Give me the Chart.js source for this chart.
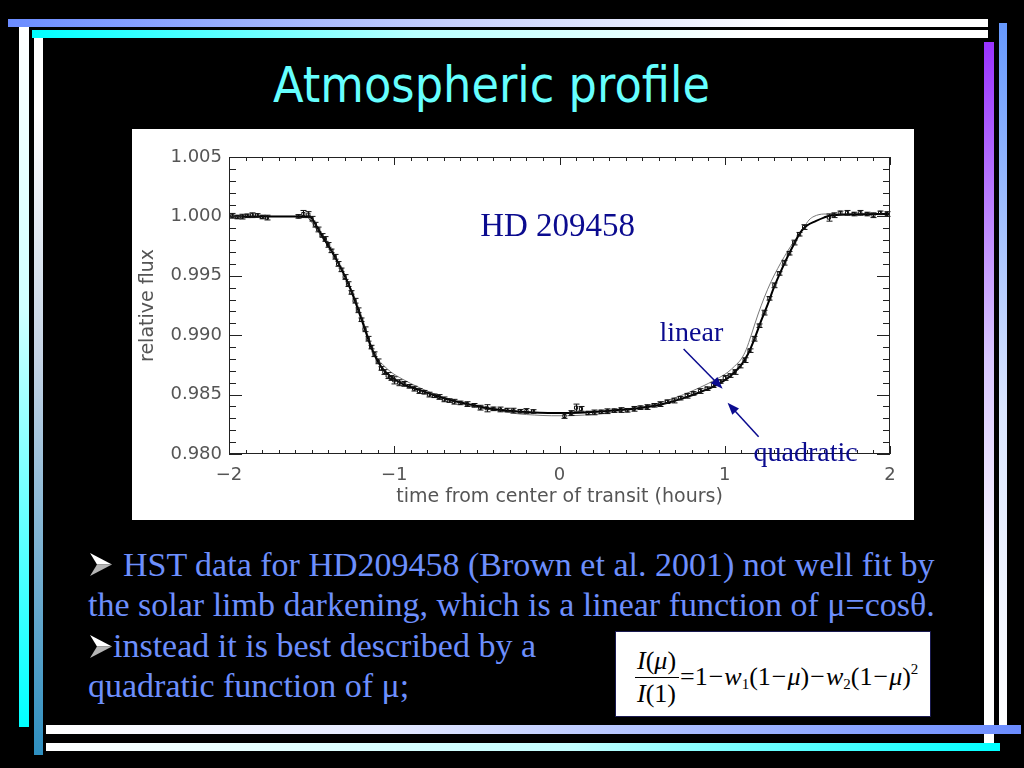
<!DOCTYPE html>
<html>
<head>
<meta charset="utf-8">
<script src="https://cdn.jsdelivr.net/npm/chart.js@4.4.1/dist/chart.umd.min.js"></script>
<style>
html, body { margin:0; padding:0; background:#000; width:1024px; height:768px; overflow:hidden; }
.bar { position:absolute; }
#title { position:absolute; left:273px; top:60px; font-family:"DejaVu Sans", sans-serif; font-size:50px; line-height:50px;
  color:#66ffff; white-space:nowrap; transform:scaleX(0.895); transform-origin:left top; }
#panel { position:absolute; left:132px; top:129px; width:782px; height:391px; background:#fff; }
.txt { position:absolute; font-family:"Liberation Serif", "Times New Roman", serif; font-size:34px; line-height:34px;
  color:#6d8ffd; white-space:nowrap; }
.bul { position:absolute; width:22px; height:23px; }
#eq { position:absolute; left:615px; top:631px; width:314px; height:84px; background:#fff; border:1px solid #1a1a50; }
.eq { position:absolute; font-family:"Liberation Serif", "Times New Roman", serif; font-size:26px; line-height:26px;
  color:#000; white-space:nowrap; }
.eq sub, .eq sup { font-size:15px; line-height:0; }
.eq sub { vertical-align:-4px; }
.eq sup { vertical-align:11px; }
.eq .m { padding:0 1px; }
</style>
</head>
<body>
<!-- slide decorations -->
<div class="bar" style="left:8px;top:19px;width:980px;height:8px;background:linear-gradient(to right,#6b8cff,#c6cffd 45%,#fff 80%)"></div>
<div class="bar" style="left:32px;top:30px;width:956px;height:8px;background:linear-gradient(to right,#00ffff,#b8ffff 40%,#fff 75%)"></div>
<div class="bar" style="left:19px;top:27px;width:10px;height:700px;background:linear-gradient(to bottom,#fff,#d0ffff 40%,#00ffff)"></div>
<div class="bar" style="left:34px;top:38px;width:9px;height:717px;background:linear-gradient(to bottom,#fff 10%,#c4d3e4 45%,#2e8fc0)"></div>
<div class="bar" style="left:984px;top:42px;width:10px;height:701px;background:linear-gradient(to bottom,#9933ff,#d9c6ff 45%,#fff 80%)"></div>
<div class="bar" style="left:999px;top:23px;width:8px;height:702px;background:linear-gradient(to bottom,#6699ff,#dbe6ff 55%,#fff)"></div>
<div class="bar" style="left:46px;top:725px;width:975px;height:9px;background:linear-gradient(to right,#fff,#e4e9ff 35%,#6b8cff)"></div>
<div class="bar" style="left:46px;top:743px;width:954px;height:8px;background:linear-gradient(to right,#fff,#c4ffff 55%,#00ffff)"></div>

<div id="title">Atmospheric profile</div>

<div id="panel"><canvas id="lc"></canvas></div>

<svg class="bul" style="left:90px;top:553px" viewBox="0 0 22 23"><polygon points="0,0 22,11.5 7,11.5" fill="#fff"/><polygon points="0,23 22,11.5 7,11.5" fill="#b5b5b5"/></svg>
<div class="txt" style="left:123px;top:548px">HST data for HD209458 (Brown et al. 2001) not well fit by</div>
<div class="txt" style="left:88px;top:588px">the solar limb darkening, which is a linear function of μ=cosθ.</div>
<svg class="bul" style="left:90px;top:635px" viewBox="0 0 22 23"><polygon points="0,0 22,11.5 7,11.5" fill="#fff"/><polygon points="0,23 22,11.5 7,11.5" fill="#b5b5b5"/></svg>
<div class="txt" style="left:113px;top:629px">instead it is best described by a</div>
<div class="txt" style="left:88px;top:669px">quadratic function of μ;</div>

<div id="eq"></div>
<div class="eq" style="left:637px;top:648px"><i>I</i>(<i>μ</i>)</div>
<div style="position:absolute;left:635px;top:677px;width:44px;height:1px;background:#000"></div>
<div class="eq" style="left:637px;top:681px"><i>I</i>(1)</div>
<div class="eq" style="left:680px;top:664px">=1<span class="m">−</span><i>w</i><sub>1</sub>(1<span class="m">−</span><i>μ</i>)<span class="m">−</span><i>w</i><sub>2</sub>(1<span class="m">−</span><i>μ</i>)<sup>2</sup></div>

<script>
// HST light curve of HD 209458
const timeData = [
  -1.98, -1.95, -1.92, -1.89, -1.86, -1.83, -1.80, -1.77,
  -1.58, -1.55, -1.52, -1.50,
  -1.48, -1.46, -1.44, -1.42, -1.40, -1.38, -1.36, -1.34, -1.32, -1.30, -1.28, -1.26, -1.24,
  -1.22, -1.20, -1.18, -1.16, -1.14, -1.12, -1.10, -1.08, -1.06, -1.04, -1.02, -1.00,
  -0.97, -0.94, -0.91, -0.88, -0.85, -0.82, -0.79, -0.76, -0.73, -0.70, -0.67, -0.64,
  -0.60, -0.56, -0.52, -0.48, -0.44, -0.40, -0.36, -0.32, -0.28, -0.24, -0.20, -0.16,
  0.03, 0.07, 0.10, 0.13, 0.17, 0.21, 0.25, 0.29, 0.33, 0.37, 0.41, 0.45, 0.49,
  0.53, 0.57, 0.61, 0.65, 0.69, 0.73, 0.77, 0.81, 0.85, 0.89, 0.93, 0.97,
  1.00, 1.03, 1.06, 1.09, 1.12, 1.15, 1.18, 1.21, 1.24, 1.27, 1.30, 1.33, 1.36, 1.39, 1.42, 1.45, 1.48,
  1.63, 1.66, 1.70, 1.74, 1.78, 1.82, 1.86, 1.90, 1.94, 1.98
];
const fluxData = [
  1.00005, 0.99995, 0.99998, 1.00005, 1.0001, 1.00008, 0.99995, 0.9999,
  1.0000, 1.0002, 1.00015, 0.9998,
  0.9993, 0.9989, 0.9984, 0.9981, 0.9976, 0.9971, 0.9966, 0.9960, 0.9955, 0.9949, 0.9943, 0.9936, 0.9929,
  0.9921, 0.9913, 0.9905, 0.9897, 0.9890, 0.9884, 0.9878, 0.9872, 0.9869, 0.9866, 0.9864, 0.9862,
  0.9860, 0.9859, 0.9857, 0.9855, 0.9853, 0.9852, 0.9850, 0.9849, 0.9848, 0.9846, 0.9845, 0.9844,
  0.9843, 0.9842, 0.9841, 0.9839, 0.98385, 0.9838, 0.98375, 0.9837, 0.98365, 0.9836, 0.98362, 0.98358,
  0.9832, 0.98345, 0.9839, 0.9838, 0.98345, 0.9835, 0.98355, 0.9836, 0.98365, 0.9837, 0.98368, 0.9838, 0.9839,
  0.98395, 0.9841, 0.9842, 0.9844, 0.9845, 0.9847, 0.9849, 0.9851, 0.9853, 0.9855, 0.9858, 0.9861,
  0.9864, 0.9866, 0.9869, 0.9874, 0.9879, 0.9887, 0.9897, 0.9908, 0.9919, 0.9931, 0.9942, 0.9952, 0.9961, 0.9969, 0.9978, 0.9985, 0.9991,
  0.9999, 1.0001, 1.0003, 1.0003, 1.0002, 1.0003, 1.0002, 1.0001, 1.0003, 1.0002
];
const fluxErr = [
  0.0002, 0.00015, 0.0002, 0.00015, 0.0002, 0.00015, 0.00015, 0.0002,
  0.00015, 0.0003, 0.00025, 0.0002,
  0.0002, 0.0002, 0.00015, 0.0002, 0.0002, 0.00015, 0.0002, 0.0002, 0.00015, 0.0002, 0.0002, 0.00015, 0.0002,
  0.0002, 0.00015, 0.0002, 0.0002, 0.00015, 0.0002, 0.0002, 0.00015, 0.0002, 0.00025, 0.0002, 0.0003,
  0.00025, 0.0002, 0.00015, 0.0002, 0.0002, 0.00015, 0.0002, 0.00015, 0.0002, 0.0002, 0.00015, 0.0002,
  0.00015, 0.0002, 0.00015, 0.0002, 0.0003, 0.00015, 0.0002, 0.00015, 0.0002, 0.00015, 0.0002, 0.00015,
  0.0002, 0.0002, 0.0003, 0.0002, 0.00015, 0.0002, 0.00015, 0.0002, 0.00015, 0.0002, 0.00015, 0.0002, 0.00015,
  0.0002, 0.00015, 0.0002, 0.00015, 0.0002, 0.00015, 0.0002, 0.00015, 0.0002, 0.00015, 0.0002, 0.00015,
  0.0002, 0.00015, 0.0002, 0.00015, 0.0002, 0.00015, 0.0002, 0.00015, 0.0002, 0.00015, 0.0002, 0.00015, 0.0002, 0.00015, 0.0002, 0.00015, 0.0002,
  0.0003, 0.0002, 0.00015, 0.0002, 0.00015, 0.0002, 0.00015, 0.0002, 0.00015, 0.0002
];

// quadratic limb-darkening model (thick black)
const quadTime = [-2, -1.51, -1.48, -1.45, -1.42, -1.38, -1.34, -1.30, -1.26, -1.22, -1.18, -1.14, -1.10, -1.06, -1.02,
  -0.95, -0.85, -0.75, -0.65, -0.55, -0.45, -0.35, -0.25, -0.15, -0.05, 0.05, 0.15, 0.25, 0.35, 0.45, 0.55, 0.65, 0.75,
  0.85, 0.95, 1.02, 1.06, 1.10, 1.14, 1.18, 1.22, 1.26, 1.30, 1.34, 1.38, 1.42, 1.46, 1.50, 1.55, 1.60, 1.65, 2];
const quadFlux = [1.0000, 1.0000, 0.9994, 0.9987, 0.9980, 0.9971, 0.9961, 0.9950, 0.9937, 0.9922, 0.9906, 0.9890, 0.9878, 0.9870, 0.9865,
  0.9859, 0.9854, 0.9849, 0.9845, 0.9842, 0.9839, 0.9837, 0.98358, 0.9835, 0.98346, 0.98346, 0.9835, 0.98358, 0.9837, 0.9838, 0.9840, 0.9843, 0.9847,
  0.9852, 0.9858, 0.9864, 0.9869, 0.9875, 0.9884, 0.9897, 0.9912, 0.9926, 0.9941, 0.9954, 0.9966, 0.9977, 0.9987, 0.99925, 0.9996, 0.9999, 1.0001, 1.0002];

// linear (solar) limb-darkening model (thin grey)
const linTime = [-2, -1.54, -1.51, -1.48, -1.44, -1.40, -1.36, -1.32, -1.28, -1.24, -1.20, -1.16, -1.13, -1.10, -1.06, -1.02,
  -0.95, -0.85, -0.75, -0.65, -0.55, -0.45, -0.35, -0.25, -0.15, -0.05, 0.05, 0.15, 0.25, 0.35, 0.45, 0.55, 0.65, 0.75, 0.85, 0.95,
  1.02, 1.06, 1.10, 1.13, 1.16, 1.20, 1.24, 1.28, 1.32, 1.36, 1.40, 1.44, 1.48, 1.51, 1.54, 1.60, 2];
const linFlux = [1.0000, 1.0000, 0.9997, 0.9991, 0.9983, 0.9975, 0.9966, 0.9956, 0.9945, 0.9932, 0.9917, 0.9900, 0.9888, 0.9880, 0.9874, 0.9869,
  0.9863, 0.9856, 0.9850, 0.9845, 0.9841, 0.9838, 0.9836, 0.98338, 0.98328, 0.98322, 0.98322, 0.98328, 0.98338, 0.9836, 0.9838, 0.9841, 0.9845, 0.9850, 0.9856, 0.9863,
  0.9869, 0.9874, 0.9880, 0.9888, 0.9900, 0.9917, 0.9932, 0.9945, 0.9956, 0.9966, 0.9975, 0.9983, 0.9991, 0.9997, 1.0000, 1.0002, 1.0002];

const xTicks = [-2, -1, 0, 1, 2];
const yTicks = [0.980, 0.985, 0.990, 0.995, 1.000, 1.005];

const axisFont = { family: 'DejaVu Sans', size: 18 };
const titleFont = { family: 'DejaVu Sans', size: 19 };
const navy = '#0b0b8f';

const toXY = (xs, ys) => xs.map((v, i) => ({ x: v, y: ys[i] }));

// error bars, the boxed frame with inward ticks, and the labels/arrows
const idlFrame = {
  id: 'idlFrame',
  afterDatasetsDraw(chart) {
    const { ctx, chartArea: a, scales: { x, y } } = chart;
    ctx.save();
    ctx.strokeStyle = '#111';
    ctx.lineWidth = 1;
    ctx.beginPath();
    timeData.forEach((t, i) => {
      const px = Math.round(x.getPixelForValue(t)) + 0.5;
      const lo = y.getPixelForValue(fluxData[i] - fluxErr[i]);
      const hi = y.getPixelForValue(fluxData[i] + fluxErr[i]);
      ctx.moveTo(px, lo); ctx.lineTo(px, hi);
      ctx.moveTo(px - 3, lo); ctx.lineTo(px + 3, lo);
      ctx.moveTo(px - 3, hi); ctx.lineTo(px + 3, hi);
    });
    ctx.stroke();

    ctx.strokeStyle = '#222';
    ctx.strokeRect(Math.round(a.left) + 0.5, Math.round(a.top) + 0.5, Math.round(a.width) - 1, Math.round(a.height) - 1);
    ctx.beginPath();
    for (let k = -20; k <= 20; k++) {
      const px = Math.round(x.getPixelForValue(k / 10)) + 0.5;
      const len = k % 10 === 0 ? 8 : 4;
      ctx.moveTo(px, a.bottom); ctx.lineTo(px, a.bottom - len);
      ctx.moveTo(px, a.top); ctx.lineTo(px, a.top + len);
    }
    for (let k = 980; k <= 1005; k++) {
      const py = Math.round(y.getPixelForValue(k / 1000)) + 0.5;
      const len = k % 5 === 0 ? 13 : 7;
      ctx.moveTo(a.left, py); ctx.lineTo(a.left + len, py);
      ctx.moveTo(a.right, py); ctx.lineTo(a.right - len, py);
    }
    ctx.stroke();
    ctx.restore();
  },
  afterDraw(chart) {
    const { ctx, scales: { x, y } } = chart;
    ctx.save();
    ctx.fillStyle = navy;
    ctx.strokeStyle = navy;
    ctx.textAlign = 'left';
    ctx.textBaseline = 'alphabetic';
    ctx.font = '33px "Liberation Serif"';
    ctx.fillText('HD 209458', x.getPixelForValue(-0.48), y.getPixelForValue(0.99832));
    ctx.font = '28px "Liberation Serif"';
    ctx.fillText('linear', x.getPixelForValue(0.605), y.getPixelForValue(0.98951));
    ctx.fillText('quadratic', x.getPixelForValue(1.174), y.getPixelForValue(0.97945));

    const arrow = (x0, y0, x1, y1) => {
      const ax = x.getPixelForValue(x0), ay = y.getPixelForValue(y0);
      const bx = x.getPixelForValue(x1), by = y.getPixelForValue(y1);
      const ang = Math.atan2(by - ay, bx - ax);
      ctx.lineWidth = 1.5;
      ctx.beginPath();
      ctx.moveTo(ax, ay);
      ctx.lineTo(bx - 8 * Math.cos(ang), by - 8 * Math.sin(ang));
      ctx.stroke();
      ctx.beginPath();
      ctx.moveTo(bx, by);
      ctx.lineTo(bx - 12 * Math.cos(ang) + 4.5 * Math.sin(ang), by - 12 * Math.sin(ang) - 4.5 * Math.cos(ang));
      ctx.lineTo(bx - 12 * Math.cos(ang) - 4.5 * Math.sin(ang), by - 12 * Math.sin(ang) + 4.5 * Math.cos(ang));
      ctx.closePath();
      ctx.fill();
    };
    arrow(0.751, 0.98884, 0.987, 0.98549);
    arrow(1.205, 0.98146, 1.017, 0.98431);
    ctx.restore();
  }
};

new Chart(document.getElementById('lc'), {
  type: 'scatter',
  data: {
    datasets: [
      {
        label: 'HST data',
        data: toXY(timeData, fluxData),
        pointStyle: 'rect',
        pointRadius: 2.2,
        borderWidth: 1,
        borderColor: '#111',
        backgroundColor: 'rgba(255,255,255,0)'
      },
      {
        label: 'quadratic',
        type: 'line',
        data: toXY(quadTime, quadFlux),
        borderColor: '#000',
        borderWidth: 2,
        pointRadius: 0,
        cubicInterpolationMode: 'monotone',
        fill: false
      },
      {
        label: 'linear',
        type: 'line',
        data: toXY(linTime, linFlux),
        borderColor: '#777',
        borderWidth: 1,
        pointRadius: 0,
        cubicInterpolationMode: 'monotone',
        fill: false
      }
    ]
  },
  options: {
    responsive: true,
    maintainAspectRatio: false,
    animation: false,
    layout: { padding: { top: 28, right: 24, left: 0, bottom: 0 } },
    plugins: { legend: { display: false }, tooltip: { enabled: false } },
    scales: {
      x: {
        type: 'linear',
        min: -2, max: 2,
        afterFit: s => { s.height = 66; },
        afterBuildTicks: s => { s.ticks = xTicks.map(v => ({ value: v })); },
        grid: { display: false, drawTicks: false },
        border: { display: false },
        ticks: {
          color: '#555', font: axisFont, padding: 11, maxRotation: 0, autoSkip: false,
          callback: v => String(v).replace('-', '\u2212')
        },
        title: { display: true, text: 'time from center of transit (hours)', color: '#555', font: titleFont, padding: { top: 0, bottom: 12 } }
      },
      y: {
        min: 0.98, max: 1.005,
        afterFit: s => { s.width = 97; },
        afterBuildTicks: s => { s.ticks = yTicks.map(v => ({ value: v })); },
        grid: { display: false, drawTicks: false },
        border: { display: false },
        ticks: { color: '#555', font: axisFont, padding: 7, autoSkip: false, callback: v => v.toFixed(3) },
        title: { display: true, text: 'relative flux', color: '#555', font: titleFont, padding: { top: 5, bottom: 0 } }
      }
    }
  },
  plugins: [idlFrame]
});
</script>
</body>
</html>
